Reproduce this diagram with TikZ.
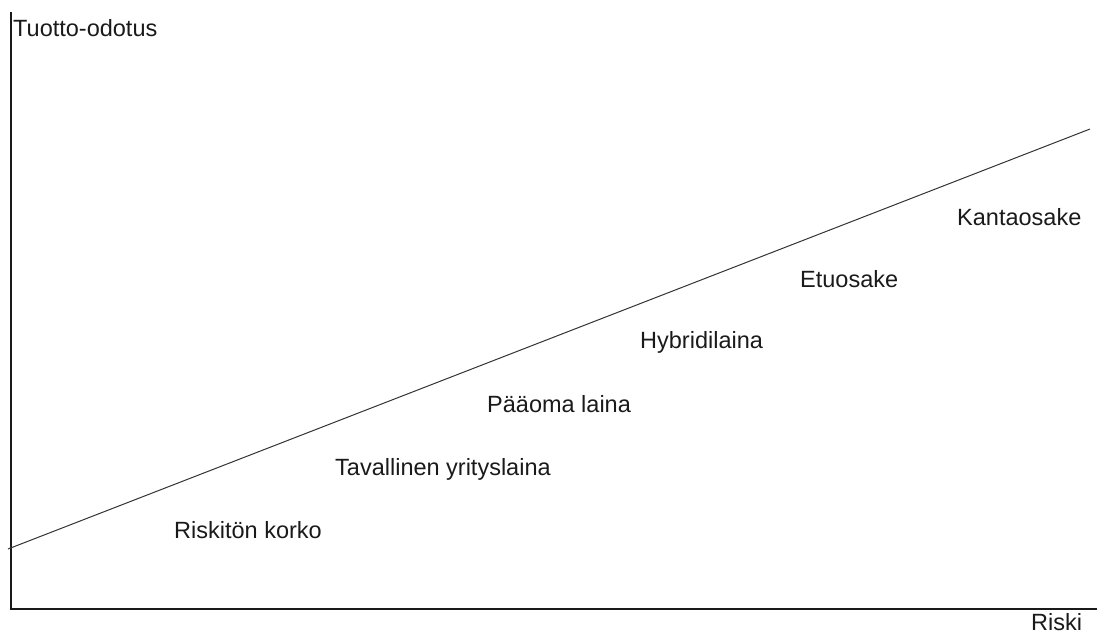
\documentclass[tikz,border=0pt]{standalone}
\usepackage{fontspec}
\setmainfont{Liberation Sans}
\definecolor{rkInk}{HTML}{1A1A1A}
\definecolor{rkLine}{HTML}{333333}
\tikzset{
  rk axis/.style={draw=rkInk, line width=1.3pt},
  rk line/.style={draw=rkLine, line width=1pt},
  rk label/.style={font=\fontsize{23.5}{28}\selectfont, text=rkInk, anchor=base west, inner sep=0pt},
}
\begin{document}
\begin{tikzpicture}[x=1pt, y=-1pt]
  \useasboundingbox (0,0) rectangle (1100,633);
  % Axes
  \coordinate (ytop) at (11,12);
  \coordinate (origin) at (11,609);
  \coordinate (xend) at (1097,609);
  \draw[rk axis] (ytop) -- (origin) -- (xend);
  \node[rk label] (ylab) at (13,36) {Tuotto-odotus};
  \node[rk label] (xlab) at (1031,630) {Riski};
  % Risk-return line
  \coordinate (lo) at (8,549);
  \coordinate (hi) at (1090,129);
  \draw[rk line] (lo) -- (hi);
  % Instruments, from low to high risk
  \node[rk label] (riskiton) at (174,538) {Riskitön korko};
  \node[rk label] (yrityslaina) at (335,475) {Tavallinen yrityslaina};
  \node[rk label] (paaoma) at (487,412) {Pääoma laina};
  \node[rk label] (hybridi) at (640,348) {Hybridilaina};
  \node[rk label] (etuosake) at (800,287) {Etuosake};
  \node[rk label] (kantaosake) at (957,225) {Kantaosake};
\end{tikzpicture}
\end{document}
